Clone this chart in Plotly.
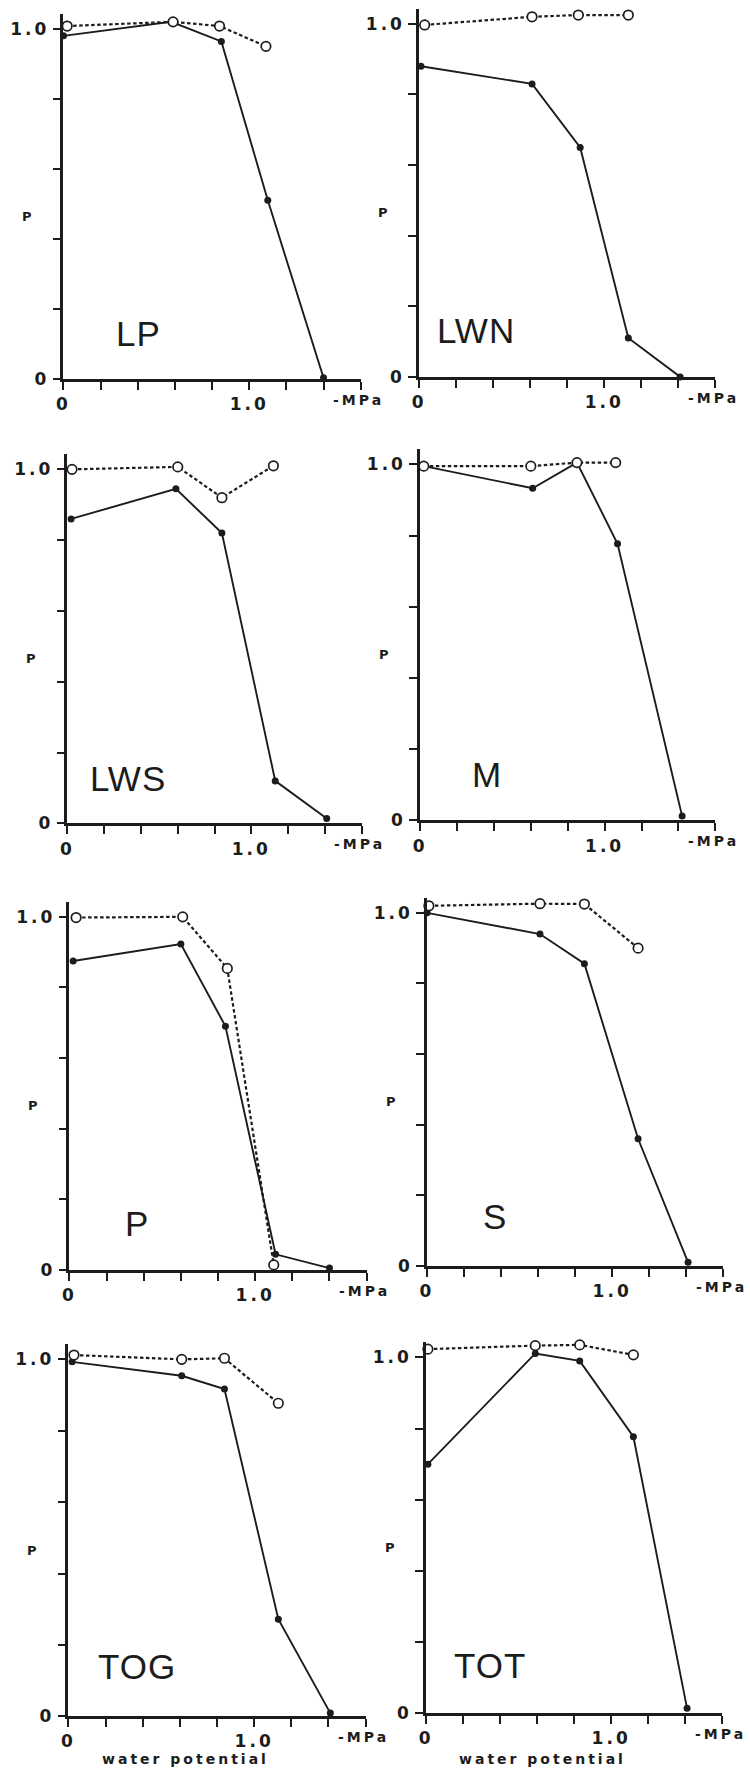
import plotly.graph_objects as go

# ---- data: proportion p against water potential (-MPa) ----
PANELS = ["LP", "LWN", "LWS", "M", "P", "S", "TOG", "TOT"]

# filled points (solid line)
LP_WP = [0.0, 0.58, 0.85, 1.10, 1.40]
LP_P = [0.98, 1.02, 0.964, 0.51, 0.003]
LWN_WP = [0.01, 0.61, 0.87, 1.13, 1.41]
LWN_P = [0.88, 0.83, 0.65, 0.11, 0.0]
LWS_WP = [0.02, 0.59, 0.84, 1.13, 1.41]
LWS_P = [0.86, 0.945, 0.82, 0.12, 0.014]
M_WP = [0.02, 0.61, 0.85, 1.07, 1.42]
M_P = [0.995, 0.933, 1.005, 0.777, 0.012]
P_WP = [0.02, 0.60, 0.84, 1.11, 1.40]
P_P = [0.875, 0.923, 0.69, 0.044, 0.005]
S_WP = [0.0, 0.61, 0.85, 1.14, 1.41]
S_P = [1.0, 0.94, 0.856, 0.36, 0.01]
TOG_WP = [0.02, 0.61, 0.84, 1.13, 1.41]
TOG_P = [0.993, 0.954, 0.917, 0.272, 0.009]
TOT_WP = [0.01, 0.59, 0.83, 1.12, 1.41]
TOT_P = [0.70, 1.011, 0.99, 0.777, 0.014]

# open points (dotted line)
LP_WP_O = [0.02, 0.59, 0.84, 1.09]
LP_P_O = [1.008, 1.02, 1.008, 0.95]
LWN_WP_O = [0.03, 0.61, 0.86, 1.13]
LWN_P_O = [0.997, 1.02, 1.025, 1.025]
LWS_WP_O = [0.025, 0.60, 0.84, 1.12]
LWS_P_O = [1.0, 1.007, 0.92, 1.01]
M_WP_O = [0.02, 0.60, 0.85, 1.06]
M_P_O = [0.995, 0.995, 1.005, 1.005]
P_WP_O = [0.036, 0.61, 0.85, 1.10]
P_P_O = [0.998, 1.0, 0.854, 0.014]
S_WP_O = [0.01, 0.61, 0.85, 1.14]
S_P_O = [1.02, 1.026, 1.025, 0.90]
TOG_WP_O = [0.03, 0.61, 0.84, 1.13]
TOG_P_O = [1.012, 1.0, 1.003, 0.877]
TOT_WP_O = [0.01, 0.59, 0.83, 1.12]
TOT_P_O = [1.023, 1.033, 1.035, 1.007]

X_TICKS = [0, 0.2, 0.4, 0.6, 0.8, 1.0, 1.2, 1.4, 1.6]
X_TICK_TEXT = ["0", "", "", "", "", "1.0", "", "", ""]
Y_TICKS = [0, 0.2, 0.4, 0.6, 0.8, 1.0]
Y_TICK_TEXT = ["0", "", "", "", "", "1.0"]

SERIES = [
    (LP_WP, LP_P, LP_WP_O, LP_P_O),
    (LWN_WP, LWN_P, LWN_WP_O, LWN_P_O),
    (LWS_WP, LWS_P, LWS_WP_O, LWS_P_O),
    (M_WP, M_P, M_WP_O, M_P_O),
    (P_WP, P_P, P_WP_O, P_P_O),
    (S_WP, S_P, S_WP_O, S_P_O),
    (TOG_WP, TOG_P, TOG_WP_O, TOG_P_O),
    (TOT_WP, TOT_P, TOT_WP_O, TOT_P_O),
]

# ---- layout: pixel frame of each panel (x at 0, x at 1.6, y at 1.0, y at 0) ----
W, H = 750, 1785
FRAMES = [
    (57, 357, 29, 381),
    (416, 715, 24, 379),
    (61, 358, 472, 828),
    (417, 715, 467, 825),
    (63, 363, 922, 1277),
    (424, 723, 918, 1273),
    (62, 362, 1367, 1726),
    (423, 722, 1365, 1723),
]
# position of the panel name in data units (left edge x, centre y)
NAME_POS = [(0.27, 0.13), (0.085, 0.13), (0.11, 0.127), (0.27, 0.13),
            (0.29, 0.13), (0.29, 0.14), (0.15, 0.14), (0.14, 0.134)]

Y_TOP = 1.042
INK = "#1c1c1c"
TICK_FONT = dict(family="DejaVu Sans", size=17, color=INK, weight="bold")


def spaced(text, px):
    return f"<span style='letter-spacing:{px}px'>{text}</span>"


fig = go.Figure()
annotations = []

for i, name in enumerate(PANELS):
    sfx = "" if i == 0 else str(i + 1)
    xs, ys, xo, yo = SERIES[i]
    x0, x16, y1, y0 = FRAMES[i]
    unit = y0 - y1
    top = y0 - Y_TOP * unit

    # filled points joined by a solid line
    fig.add_trace(go.Scatter(
        x=xs, y=ys, mode="lines+markers", xaxis="x" + sfx, yaxis="y" + sfx,
        line=dict(color=INK, width=1.9),
        marker=dict(size=7, color=INK),
        cliponaxis=False, showlegend=False, hoverinfo="skip"))
    # open circles joined by a dotted line
    fig.add_trace(go.Scatter(
        x=xo, y=yo, mode="lines+markers", xaxis="x" + sfx, yaxis="y" + sfx,
        line=dict(color=INK, width=2.2, dash="3.5px,2.5px"),
        marker=dict(size=9.5, color="white", line=dict(color=INK, width=1.7)),
        cliponaxis=False, showlegend=False, hoverinfo="skip"))

    fig.update_layout({
        "xaxis" + sfx: dict(
            domain=[x0 / W, x16 / W], range=[0, 1.6], anchor="y" + sfx,
            showline=True, linewidth=2.5, linecolor=INK, mirror=False,
            ticks="outside", ticklen=8, tickwidth=2, tickcolor=INK,
            tickvals=X_TICKS, ticktext=[spaced(t, 3) for t in X_TICK_TEXT],
            tickfont=TICK_FONT, showgrid=False, zeroline=False),
        "yaxis" + sfx: dict(
            domain=[1 - y0 / H, 1 - top / H], range=[0, Y_TOP], anchor="x" + sfx,
            showline=True, linewidth=2.5, linecolor=INK,
            ticks="outside", ticklen=8, tickwidth=2, tickcolor=INK,
            tickvals=Y_TICKS, ticktext=[spaced(t, 3) for t in Y_TICK_TEXT],
            tickfont=TICK_FONT, showgrid=False, zeroline=False),
    })

    nx, ny = NAME_POS[i]
    annotations.append(dict(
        x=nx, y=ny, xref="x" + sfx, yref="y" + sfx, text=spaced(name, 1),
        showarrow=False, xanchor="left", yanchor="middle",
        font=dict(family="Liberation Sans", size=35, color=INK)))
    annotations.append(dict(
        x=0, y=0.465, xref=f"x{sfx} domain", yref="y" + sfx, text="P",
        showarrow=False, xanchor="center", yanchor="middle", xshift=-36,
        font=dict(family="DejaVu Sans", size=13, color=INK, weight="bold")))
    annotations.append(dict(
        x=1.44, y=0, xref="x" + sfx, yref="y" + sfx, text=spaced("-MPa", 3),
        showarrow=False, xanchor="left", yanchor="middle", yshift=-21,
        font=dict(family="DejaVu Sans", size=14, color=INK, weight="bold")))

# shared x-axis caption under the bottom row
for sfx in ("7", "8"):
    annotations.append(dict(
        x=0.63, y=1 - 1769 / H, xref="x" + sfx, yref="paper",
        text=spaced("water potential", 3), showarrow=False,
        xanchor="center", yanchor="middle",
        font=dict(family="DejaVu Sans", size=14, color=INK, weight="bold")))

fig.update_layout(
    width=W, height=H, margin=dict(l=0, r=0, t=0, b=0),
    paper_bgcolor="white", plot_bgcolor="white",
    annotations=annotations, showlegend=False)

fig.write_html("out.html")
